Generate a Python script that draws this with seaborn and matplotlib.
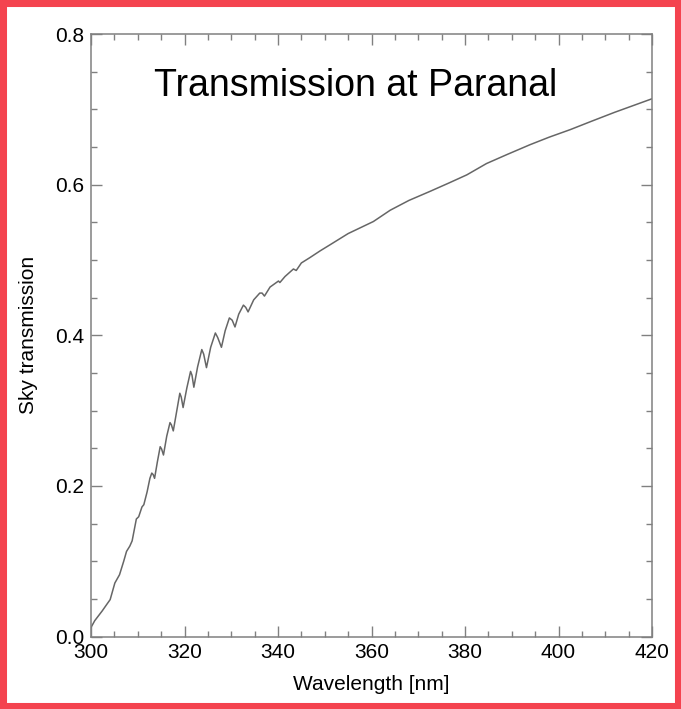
import matplotlib
matplotlib.use("Agg")
import matplotlib.pyplot as plt
from matplotlib.patches import Rectangle
from matplotlib.ticker import MultipleLocator, FormatStrFormatter
import numpy as np
import pandas as pd
import seaborn as sns

# Atmospheric transmission at Paranal in the near UV (ozone Huggins bands)
wavelength_nm = [
    300.0, 300.8, 302.4, 303.3, 304.1, 305.1, 306.1, 307.0, 307.6, 308.3,
    308.8, 309.7, 310.2, 310.9, 311.3, 312.0, 312.6, 313.0, 313.3, 313.6,
    314.2, 314.8, 315.1, 315.5, 316.2, 316.9, 317.2, 317.6, 318.3, 319.0,
    319.3, 319.7, 320.5, 321.3, 321.6, 322.0, 322.8, 323.7, 324.1, 324.7,
    325.6, 326.6, 327.1, 327.9, 328.7, 329.6, 330.2, 330.8, 331.6, 332.6,
    333.1, 333.6, 334.8, 336.1, 336.6, 337.1, 338.3, 340.1, 340.4, 341.5,
    343.3, 343.9, 345.0, 346.8, 349.0, 351.1, 355.0, 360.4, 364.0, 368.0,
    372.5, 376.5, 380.4, 384.6, 389.0, 393.9, 398.0, 402.5, 407.0, 412.0,
    416.0, 420.0,
]
transmission = [
    0.012, 0.021, 0.034, 0.042, 0.049, 0.071, 0.082, 0.100, 0.113, 0.120,
    0.127, 0.156, 0.159, 0.172, 0.175, 0.192, 0.210, 0.217, 0.215, 0.210,
    0.232, 0.252, 0.249, 0.241, 0.266, 0.284, 0.281, 0.273, 0.298, 0.323,
    0.318, 0.304, 0.330, 0.352, 0.347, 0.331, 0.358, 0.381, 0.375, 0.357,
    0.384, 0.403, 0.397, 0.384, 0.406, 0.423, 0.420, 0.411, 0.428, 0.440,
    0.437, 0.431, 0.447, 0.456, 0.456, 0.452, 0.464, 0.472, 0.470, 0.478,
    0.488, 0.486, 0.496, 0.503, 0.512, 0.520, 0.535, 0.551, 0.566, 0.579,
    0.591, 0.602, 0.613, 0.628, 0.640, 0.653, 0.663, 0.673, 0.684, 0.696,
    0.705, 0.714,
]

x_ticks = [300, 320, 340, 360, 380, 400, 420]
y_ticks = [0.0, 0.2, 0.4, 0.6, 0.8]

df = pd.DataFrame({"wavelength": wavelength_nm, "transmission": transmission})

sns.set_theme(style="ticks")
plt.rcParams["font.family"] = ["Liberation Sans", "DejaVu Sans"]

fig = plt.figure(figsize=(6.81, 7.09), dpi=100)
fig.patch.set_facecolor("white")
ax = fig.add_axes([91 / 681, 1 - 636.5 / 709, (652 - 91) / 681, (636.5 - 34) / 709])

sns.lineplot(data=df, x="wavelength", y="transmission", ax=ax,
             color="#666666", linewidth=1.1)

ax.set_xlim(300, 420)
ax.set_ylim(0, 0.8)
ax.set_xticks(x_ticks)
ax.set_yticks(y_ticks)
ax.xaxis.set_minor_locator(MultipleLocator(5))
ax.yaxis.set_minor_locator(MultipleLocator(0.05))
ax.yaxis.set_major_formatter(FormatStrFormatter("%.1f"))

spine_col = "#808080"
for s in ax.spines.values():
    s.set_visible(True)
    s.set_color(spine_col)
    s.set_linewidth(1.1)

ax.tick_params(which="both", direction="in", top=True, right=True,
               color=spine_col, labelcolor="black", width=1.0)
ax.tick_params(which="major", length=8, labelsize=15, pad=5)
ax.tick_params(which="minor", length=4)

ax.set_xlabel("Wavelength [nm]", fontsize=15, color="black", labelpad=9)
ax.set_ylabel("Sky transmission", fontsize=15, color="black", labelpad=12)

ax.text(0.472, 0.913, "Transmission at Paranal", transform=ax.transAxes,
        ha="center", va="center", fontsize=27, color="black")

# red frame around the whole figure
fig.patches.append(Rectangle((0, 0), 1, 1, transform=fig.transFigure,
                             fill=False, edgecolor="#f4434f", linewidth=9.4,
                             zorder=10))

fig.savefig("out.png", dpi=100, facecolor="white")
